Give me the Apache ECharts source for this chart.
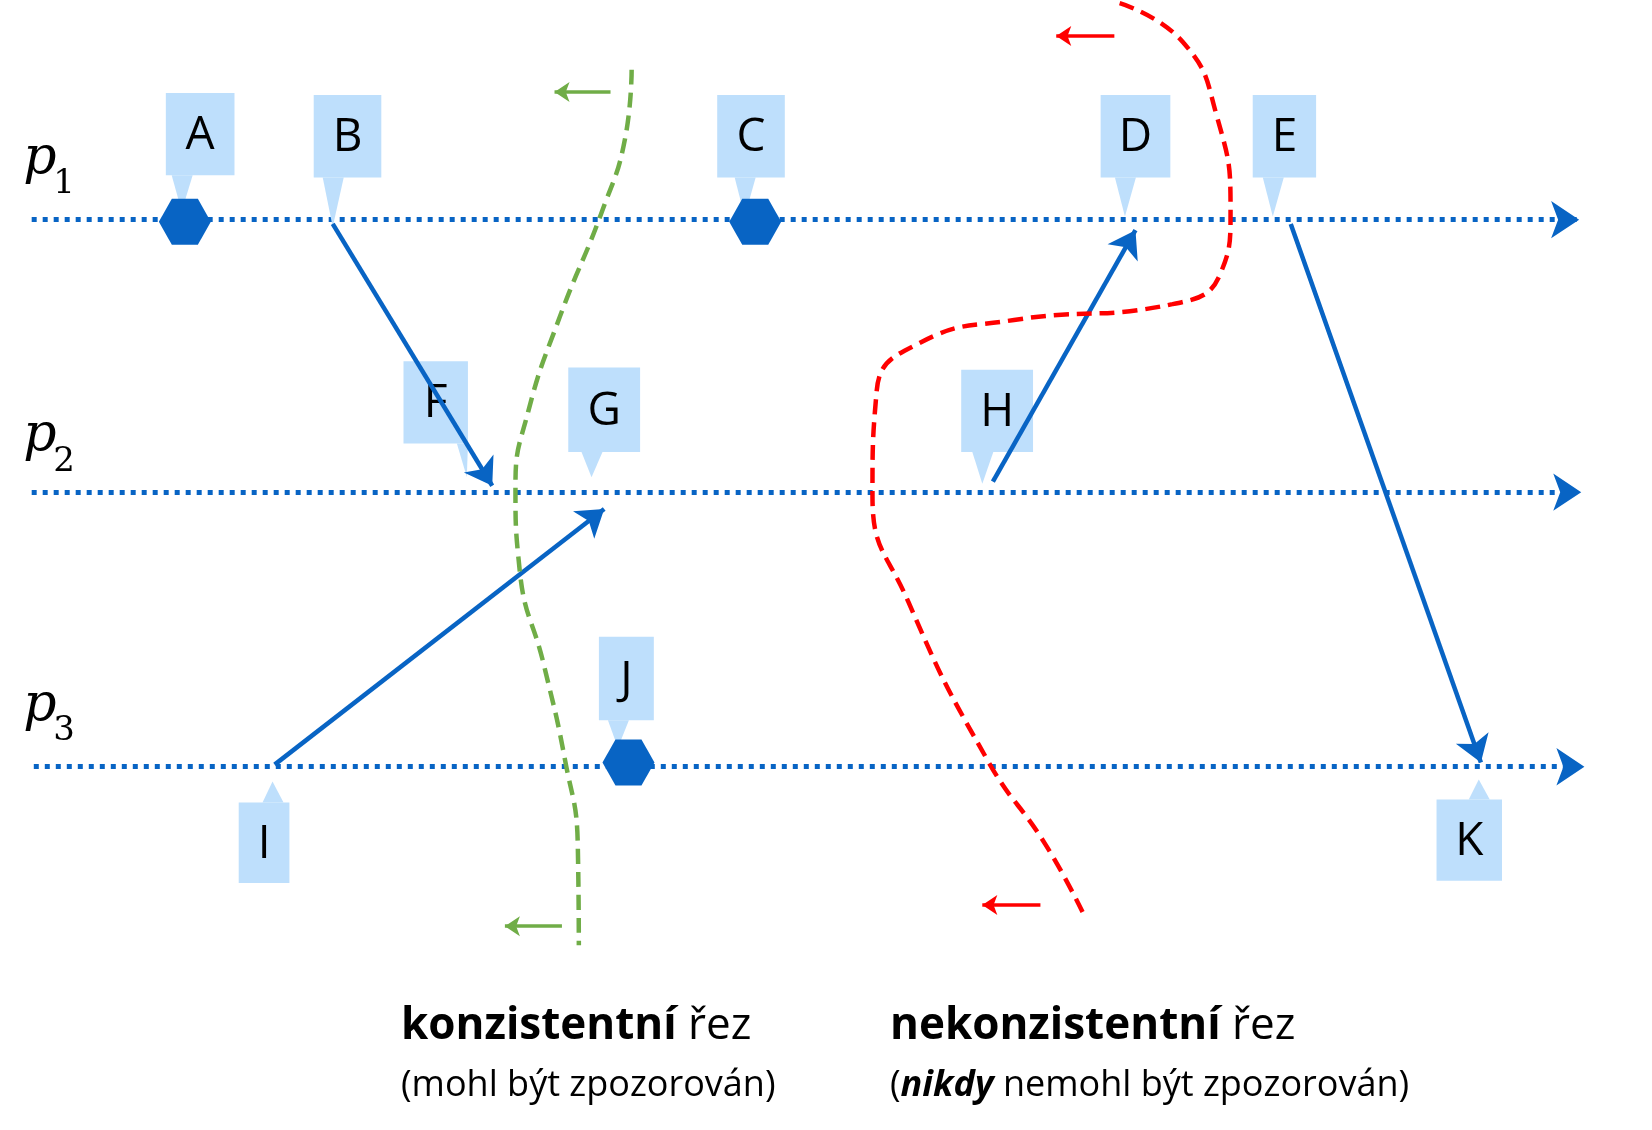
<!DOCTYPE html>
<html lang="cs">
<head>
<meta charset="UTF-8">
<title>konzistentní řez</title>
<script src="https://cdn.jsdelivr.net/npm/echarts@6/dist/echarts.min.js"></script>
<style>
  html,body{margin:0;padding:0;background:#fff;}
  #chart{width:1652px;height:1130px;}
</style>
</head>
<body>
<div id="chart"></div>
<script>
// process time lines: [x0, y, x1]
var processLines = [[30, 208, 1495], [30, 466, 1497], [32, 726, 1500]];
var processNames = ['1', '2', '3'];
var processLabelPos = [[22, 162], [22, 425], [22, 680]];
// local events (hexagons)
var events = [[175, 210], [715, 210], [595, 722]];
// messages: [from, to]
var messages = [
  [[315, 212], [466, 460]],
  [[260, 724], [572, 482]],
  [[940, 456], [1075, 218]],
  [[1222, 212], [1402, 722]]
];
// callouts: letter, box [x0,y0,x1,y1], tip [x,y]
var callouts = [
  ['A', [157, 88, 222, 166], [172, 200]],
  ['B', [297, 90, 361, 168], [315, 215]],
  ['C', [679, 90, 743, 168], [705, 205]],
  ['D', [1042, 90, 1108, 168], [1065, 205]],
  ['E', [1186, 90, 1246, 168], [1205, 205]],
  ['F', [382, 342, 443, 420], [442, 452]],
  ['G', [538, 348, 606, 428], [560, 452]],
  ['H', [910, 350, 978, 428], [930, 458]],
  ['I', [226, 760, 274, 836], [258, 740]],
  ['J', [567, 603, 619, 682], [585, 708]],
  ['K', [1360, 757, 1422, 834], [1400, 738]]
];
// cuts
var greenCut = [[598, 66], [592, 130], [570, 200], [530, 300], [500, 390], [488, 460], [492, 540], [515, 630], [535, 720], [547, 800], [548, 895]];
var redCut = [[1060, 3], [1120, 40], [1152, 110], [1165, 200], [1155, 260], [1110, 288], [960, 303], [870, 325], [830, 370], [826, 470], [860, 570], [935, 720], [990, 800], [1028, 870]];
var greenArrows = [[[578, 87], [525, 87]], [[532, 877], [478, 877]]];
var redArrows = [[[1055, 34], [1000, 34]], [[985, 857], [930, 857]]];

var blue = '#0864C4', light = '#BEDFFC', green = '#70AD47', red = '#FF0000';
var S = 1.056;

function toLines(arr) { return arr.map(function (m) { return { coords: m }; }); }

var chart = echarts.init(document.getElementById('chart'));
chart.setOption({
  animation: false,
  grid: { left: 0, right: 0, top: 0, bottom: 0 },
  xAxis: { type: 'value', min: 0, max: 1564, show: false },
  yAxis: { type: 'value', min: 0, max: 1070, inverse: true, show: false },
  series: [
    {
      type: 'lines', coordinateSystem: 'cartesian2d', z: 2,
      symbol: ['none', 'arrow'], symbolSize: 28,
      lineStyle: { color: blue, width: 5, type: [5, 6], opacity: 1 },
      data: processLines.map(function (p) { return { coords: [[p[0], p[1]], [p[2], p[1]]] }; })
    },
    {
      type: 'lines', coordinateSystem: 'cartesian2d', z: 4,
      symbol: ['none', 'arrow'], symbolSize: 26,
      lineStyle: { color: blue, width: 4.5, opacity: 1 },
      data: toLines(messages)
    },
    {
      type: 'lines', coordinateSystem: 'cartesian2d', z: 4,
      symbol: ['none', 'arrow'], symbolSize: 15,
      lineStyle: { color: green, width: 3.5, opacity: 1 },
      data: toLines(greenArrows)
    },
    {
      type: 'lines', coordinateSystem: 'cartesian2d', z: 4,
      symbol: ['none', 'arrow'], symbolSize: 15,
      lineStyle: { color: red, width: 3.5, opacity: 1 },
      data: toLines(redArrows)
    },
    {
      type: 'line', smooth: 0.5, showSymbol: false, z: 5,
      lineStyle: { color: green, width: 4.5, type: [15, 8] },
      data: greenCut
    },
    {
      type: 'line', smooth: 0.5, showSymbol: false, z: 5,
      lineStyle: { color: red, width: 4.5, type: [15, 8] },
      data: redCut
    },
    {
      type: 'scatter', z: 6,
      symbol: 'path://M25,0 L75,0 L100,45 L75,90 L25,90 L0,45 Z',
      symbolSize: [52, 46],
      itemStyle: { color: blue, opacity: 1 },
      data: events
    },
    {
      type: 'custom', z: 3,
      data: callouts.map(function (c, i) { return [i]; }),
      renderItem: function (params, api) {
        var c = callouts[params.dataIndex];
        var b = c[1], t = c[2];
        var p0 = api.coord([b[0], b[1]]), p1 = api.coord([b[2], b[3]]), tip = api.coord(t);
        var down = t[1] > b[3];
        var edge = down ? p1[1] : p0[1];
        var bx0 = Math.max(p0[0], tip[0] - 10), bx1 = Math.min(p1[0], bx0 + 21);
        return {
          type: 'group',
          children: [
            { type: 'rect', shape: { x: p0[0], y: p0[1], width: p1[0] - p0[0], height: p1[1] - p0[1] }, style: { fill: light } },
            { type: 'polygon', shape: { points: [[bx0, edge], [bx1, edge], tip] }, style: { fill: light } },
            { type: 'text', style: { text: c[0], x: (p0[0] + p1[0]) / 2, y: (p0[1] + p1[1]) / 2 + 2, align: 'center', verticalAlign: 'middle', font: '46px "Open Sans"', fill: '#000' } }
          ]
        };
      }
    },
    {
      type: 'custom', z: 7,
      data: processNames.map(function (n, i) { return [i]; }),
      renderItem: function (params, api) {
        var i = params.dataIndex, p = api.coord(processLabelPos[i]);
        return {
          type: 'group', children: [
            { type: 'text', style: { text: 'p', x: p[0], y: p[1] + 14, font: 'italic 52px "DejaVu Serif"', fill: '#000', verticalAlign: 'bottom' } },
            { type: 'text', style: { text: processNames[i], x: p[0] + 30, y: p[1] + 30, font: '34px "DejaVu Serif"', fill: '#000', verticalAlign: 'bottom' } }
          ]
        };
      }
    }
  ],
  graphic: [
    { type: 'text', left: 401, top: 1004, style: { rich: { b: { font: 'bold 44px "Open Sans"', fill: '#000' }, n: { font: '44px "Open Sans"', fill: '#000' } }, text: '{b|konzistentní}{n| řez}' } },
    { type: 'text', left: 401, top: 1068, style: { font: '36px "Open Sans"', fill: '#000', text: '(mohl být zpozorován)' } },
    { type: 'text', left: 890, top: 1004, style: { rich: { b: { font: 'bold 44px "Open Sans"', fill: '#000' }, n: { font: '44px "Open Sans"', fill: '#000' } }, text: '{b|nekonzistentní}{n| řez}' } },
    { type: 'text', left: 890, top: 1068, style: { rich: { i: { font: 'italic bold 36px "Open Sans"', fill: '#000' }, n: { font: '36px "Open Sans"', fill: '#000' } }, text: '{n|(}{i|nikdy}{n| nemohl být zpozorován)}' } }
  ]
});
</script>
</body>
</html>
